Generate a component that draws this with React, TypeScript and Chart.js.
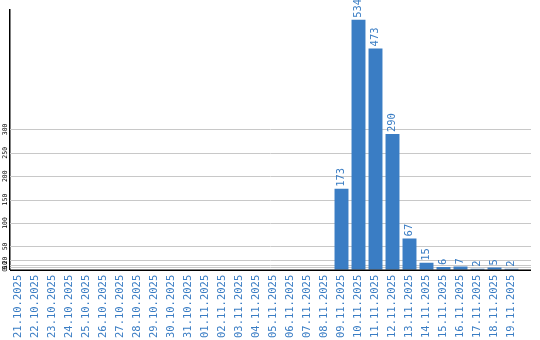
import React, { useEffect, useRef } from "react";
import { Chart, registerables } from "chart.js";

Chart.register(...registerables);

const categories = [
  "21.10.2025", "22.10.2025", "23.10.2025", "24.10.2025", "25.10.2025",
  "26.10.2025", "27.10.2025", "28.10.2025", "29.10.2025", "30.10.2025",
  "31.10.2025", "01.11.2025", "02.11.2025", "03.11.2025", "04.11.2025",
  "05.11.2025", "06.11.2025", "07.11.2025", "08.11.2025", "09.11.2025",
  "10.11.2025", "11.11.2025", "12.11.2025", "13.11.2025", "14.11.2025",
  "15.11.2025", "16.11.2025", "17.11.2025", "18.11.2025", "19.11.2025",
];
const values = [
  0, 0, 0, 0, 0, 0, 0, 0, 0, 0,
  0, 0, 0, 0, 0, 0, 0, 0, 0, 173,
  534, 473, 290, 67, 15, 6, 7, 2, 5, 2,
];
const yTicks = [0, 5, 10, 20, 50, 100, 150, 200, 250, 300];
const yMax = 555;

const BLUE = "#3a7dc4";
const MONO = "'DejaVu Sans Mono', monospace";
const GRID_RIGHT = 531;

const labelsPlugin = {
  id: "customLabels",
  beforeDatasetsDraw(chart: any) {
    const ctx = chart.ctx;
    const y = chart.scales.y;
    const left = chart.chartArea.left;
    ctx.save();
    ctx.strokeStyle = "#c8c8c8";
    ctx.lineWidth = 1;
    yTicks.forEach((t) => {
      if (t === 0) return;
      const py = Math.round(y.getPixelForValue(t)) + 0.5;
      ctx.beginPath();
      ctx.moveTo(left, py);
      ctx.lineTo(GRID_RIGHT, py);
      ctx.stroke();
    });
    ctx.restore();
  },
  afterDatasetsDraw(chart: any) {
    const ctx = chart.ctx;
    const meta = chart.getDatasetMeta(0);
    ctx.save();
    ctx.fillStyle = BLUE;
    ctx.font = `10.5px ${MONO}`;
    ctx.textAlign = "left";
    ctx.textBaseline = "middle";
    meta.data.forEach((bar: any, i: number) => {
      const v = values[i];
      if (!v) return;
      ctx.save();
      ctx.translate(bar.x, bar.y - 2);
      ctx.rotate(-Math.PI / 2);
      ctx.fillText(String(v), 0, 0);
      ctx.restore();
    });
    ctx.restore();
  },
  afterDraw(chart: any) {
    const ctx = chart.ctx;
    const y = chart.scales.y;
    const { left, bottom } = chart.chartArea;
    ctx.save();
    ctx.strokeStyle = "#000";
    ctx.lineWidth = 1.5;
    ctx.beginPath();
    ctx.moveTo(left, bottom + 0.5);
    ctx.lineTo(GRID_RIGHT, bottom + 0.5);
    ctx.stroke();
    ctx.fillStyle = "#000";
    ctx.font = `6.5px ${MONO}`;
    ctx.textAlign = "center";
    ctx.textBaseline = "middle";
    yTicks.forEach((t) => {
      const py = y.getPixelForValue(t);
      ctx.save();
      ctx.translate(5, py);
      ctx.rotate(-Math.PI / 2);
      ctx.fillText(String(t), 0, 0);
      ctx.restore();
    });
    ctx.restore();
  },
};

export default function App() {
  const ref = useRef<HTMLCanvasElement>(null);
  useEffect(() => {
    document.body.style.margin = "0";
    const chart = new Chart(ref.current!, {
      type: "bar",
      data: {
        labels: categories,
        datasets: [
          {
            data: values,
            backgroundColor: BLUE,
            barPercentage: 0.82,
            categoryPercentage: 1,
          },
        ],
      },
      options: {
        animation: false,
        responsive: false,
        maintainAspectRatio: false,
        layout: { padding: { left: 10, top: 10, right: 20, bottom: -3 } },
        plugins: { legend: { display: false }, tooltip: { enabled: false } },
        scales: {
          x: {
            grid: { display: false, drawTicks: false },
            border: { display: false },
            ticks: {
              color: BLUE,
              font: { family: MONO, size: 10.5 },
              minRotation: 90,
              maxRotation: 90,
              autoSkip: false,
              padding: 5,
            },
          },
          y: {
            min: 0,
            max: yMax,
            afterBuildTicks: (scale: any) => {
              scale.ticks = yTicks.map((v) => ({ value: v }));
            },
            grid: { display: false, drawTicks: false },
            border: { display: true, color: "#000", width: 1.5 },
            ticks: { display: false },
          },
        },
      },
      plugins: [labelsPlugin],
    });
    return () => chart.destroy();
  }, []);
  return (
    <div style={{ width: 540, height: 340 }}>
      <canvas ref={ref} width={540} height={340} />
    </div>
  );
}
